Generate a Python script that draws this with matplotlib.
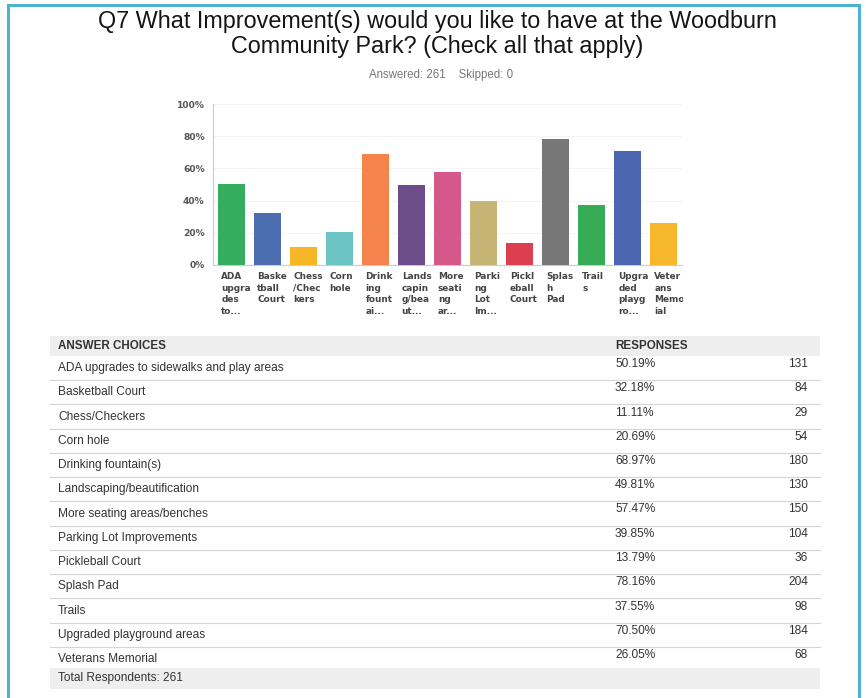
import matplotlib
matplotlib.use("Agg")
import matplotlib.pyplot as plt
from matplotlib.patches import Rectangle
from matplotlib.transforms import Bbox, TransformedBbox

# ---------------- data ----------------
choices = ["ADA upgrades to sidewalks and play areas", "Basketball Court", "Chess/Checkers",
           "Corn hole", "Drinking fountain(s)", "Landscaping/beautification",
           "More seating areas/benches", "Parking Lot Improvements", "Pickleball Court",
           "Splash Pad", "Trails", "Upgraded playground areas", "Veterans Memorial"]
bar_labels = ["ADA\nupgra\ndes\nto...", "Baske\ntball\nCourt", "Chess\n/Chec\nkers", "Corn\nhole",
              "Drink\ning\nfount\nai...", "Lands\ncapin\ng/bea\nut...", "More\nseati\nng\nar...",
              "Parki\nng\nLot\nIm...", "Pickl\neball\nCourt", "Splas\nh\nPad", "Trail\ns",
              "Upgra\nded\nplayg\nro...", "Veter\nans\nMemor\nial"]
percents = [50.19, 32.18, 11.11, 20.69, 68.97, 49.81, 57.47, 39.85, 13.79, 78.16, 37.55, 70.50, 26.05]
counts = [131, 84, 29, 54, 180, 130, 150, 104, 36, 204, 98, 184, 68]
yticks = [0, 20, 40, 60, 80, 100]
colors = ["#35ad5e", "#4c6daf", "#f6b625", "#6cc5c4", "#f5844c", "#6d4d89", "#d4588a",
          "#c6b474", "#dc4050", "#777777", "#37ab55", "#4b66ae", "#f6b72c"]
title = "Q7 What Improvement(s) would you like to have at the Woodburn\nCommunity Park? (Check all that apply)"
subtitle = "Answered: 261    Skipped: 0"
total_text = "Total Respondents: 261"

W, H = 866, 698
fig = plt.figure(figsize=(W / 100, H / 100), dpi=100)
fig.patch.set_facecolor("white")

def fx(px):
    return px / W

def fy(py):
    return 1 - py / H

sans = ["Liberation Sans", "DejaVu Sans"]
narrow = ["Liberation Sans Narrow", "Liberation Sans", "DejaVu Sans"]

# border
fig.add_artist(Rectangle((fx(8), fy(700)), fx(859) - fx(8), fy(5) - fy(700),
                         transform=fig.transFigure, fill=False, edgecolor="#4fb2d3", lw=2.2))

# title
fig.text(fx(437), fy(34), title, ha="center", va="center", fontsize=16.8,
         family=sans, color="#151515", linespacing=1.12)
fig.text(fx(441), fy(75), subtitle, ha="center", va="center", fontsize=8.3,
         family=narrow, color="#777777")

# ---------------- bar chart ----------------
ax = fig.add_axes([fx(213), fy(265), fx(682) - fx(213), fy(104) - fy(265)])
x = list(range(len(percents)))
ax.bar(x, percents, width=0.75, color=colors, zorder=3)
ax.set_xlim(-0.5, len(percents) - 0.5)
ax.set_ylim(0, 100)
ax.set_yticks(yticks)
ax.set_yticklabels([f"{v}%" for v in yticks], fontsize=6.6, fontweight="bold", color="#555555")
ax.tick_params(axis="y", length=0, pad=6)
ax.set_xticks([])
for s in ["top", "right"]:
    ax.spines[s].set_visible(False)
ax.spines["left"].set_color("#cccccc")
ax.spines["bottom"].set_color("#cccccc")
ax.grid(axis="y", color="#f4f4f4", lw=0.8, zorder=0)
ax.set_facecolor("white")

clip = TransformedBbox(Bbox([[0, 0], [fx(683), 1]]), fig.transFigure)
for i, lab in enumerate(bar_labels):
    t = ax.text(i - 0.27, -4.5, lab, ha="left", va="top", fontsize=6.4, fontweight="bold",
                color="#444444", linespacing=1.35, clip_on=True)
    t.set_clip_box(clip)

# ---------------- table ----------------
tl, tr = 50, 820
fig.add_artist(Rectangle((fx(tl), fy(356)), fx(tr) - fx(tl), fy(336) - fy(356),
                         transform=fig.transFigure, color="#eeeeee", lw=0))
fig.text(fx(58), fy(346), "ANSWER CHOICES", ha="left", va="center", fontsize=8.4,
         fontweight="bold", family=sans, color="#333333")
fig.text(fx(615), fy(346), "RESPONSES", ha="left", va="center", fontsize=8.4,
         fontweight="bold", family=sans, color="#333333")

row0, step = 368, 24.25
fs = 8.6
for i, (c, p, n) in enumerate(zip(choices, percents, counts)):
    yy = row0 + i * step
    fig.text(fx(58), fy(yy), c, ha="left", va="center", fontsize=fs, family=narrow, color="#333333")
    fig.text(fx(615), fy(yy - 4), f"{p:.2f}%", ha="left", va="center", fontsize=fs,
             family=narrow, color="#333333")
    fig.text(fx(808), fy(yy - 4), f"{n}", ha="right", va="center", fontsize=fs,
             family=narrow, color="#333333")
    if i < len(choices) - 1:
        ly = yy + 12
        fig.add_artist(plt.Line2D([fx(tl), fx(tr)], [fy(ly), fy(ly)], transform=fig.transFigure,
                                  color="#d5d5d5", lw=0.8))

fig.add_artist(Rectangle((fx(tl), fy(689)), fx(tr) - fx(tl), fy(668) - fy(689),
                         transform=fig.transFigure, color="#eeeeee", lw=0))
fig.text(fx(58), fy(678), total_text, ha="left", va="center", fontsize=fs,
         family=narrow, color="#333333")

fig.savefig("out.png", dpi=100, facecolor="white")
